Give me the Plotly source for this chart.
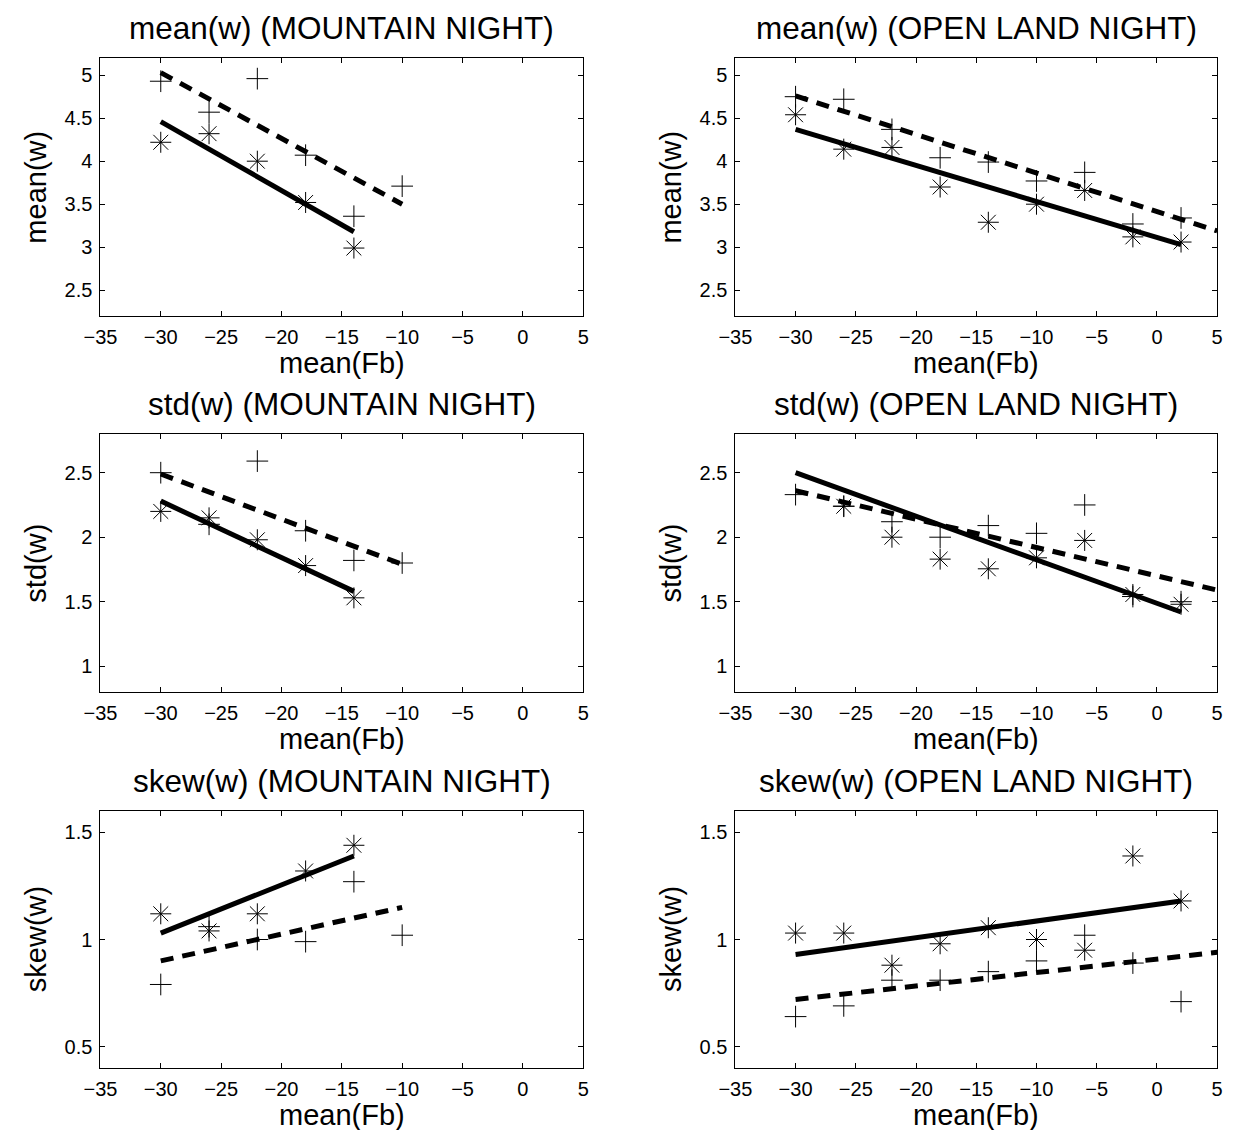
import plotly.graph_objects as go

# ---------------- data ----------------
fb_mtn_plus = [-30, -26, -22, -18, -14, -10]
fb_mtn_star = [-30, -26, -22, -18, -14]
fb_open = [-30, -26, -22, -18, -14, -10, -6, -2, 2]
fb_open_std_star = [-26, -22, -18, -14, -10, -6, -2, 2]

mean_mtn_plus = [4.93, 4.57, 4.96, 4.07, 3.36, 3.71]
mean_mtn_star = [4.22, 4.32, 4.00, 3.52, 2.99]
mean_open_plus = [4.75, 4.72, 4.37, 4.04, 3.99, 3.77, 3.87, 3.27, 3.34]
mean_open_star = [4.54, 4.14, 4.16, 3.70, 3.29, 3.50, 3.66, 3.12, 3.06]

std_mtn_plus = [2.50, 2.10, 2.59, 2.05, 1.82, 1.80]
std_mtn_star = [2.20, 2.15, 1.98, 1.78, 1.53]
std_open_plus = [2.33, 2.24, 2.12, 2.00, 2.09, 2.03, 2.25, 1.54, 1.50]
std_open_star = [2.24, 2.00, 1.83, 1.755, 1.84, 1.975, 1.556, 1.48]

skew_mtn_plus = [0.79, 1.06, 1.00, 0.99, 1.27, 1.02]
skew_mtn_star = [1.12, 1.04, 1.12, 1.32, 1.44]
skew_open_plus = [0.64, 0.69, 0.81, 0.81, 0.85, 0.90, 1.02, 0.89, 0.71]
skew_open_star = [1.03, 1.03, 0.88, 0.98, 1.055, 1.00, 0.95, 1.39, 1.18]

# fitted lines (end points)
fit_mtn_solid_x = [-30, -14]
fit_mtn_dash_x = [-30, -10]
fit_open_solid_x = [-30, 2]
fit_open_dash_x = [-30, 5]

mean_mtn_solid = [4.46, 3.18]
mean_mtn_dash = [5.03, 3.50]
mean_open_solid = [4.37, 3.03]
mean_open_dash = [4.76, 3.19]
std_mtn_solid = [2.28, 1.58]
std_mtn_dash = [2.49, 1.79]
std_open_solid = [2.50, 1.42]
std_open_dash = [2.36, 1.59]
skew_mtn_solid = [1.03, 1.39]
skew_mtn_dash = [0.90, 1.15]
skew_open_solid = [0.93, 1.18]
skew_open_dash = [0.72, 0.94]

titles = ["mean(w) (MOUNTAIN NIGHT)", "mean(w) (OPEN LAND NIGHT)",
          "std(w) (MOUNTAIN NIGHT)", "std(w) (OPEN LAND NIGHT)",
          "skew(w) (MOUNTAIN NIGHT)", "skew(w) (OPEN LAND NIGHT)"]
ylabels = ["mean(w)", "mean(w)", "std(w)", "std(w)", "skew(w)", "skew(w)"]
xlabel = "mean(Fb)"
x_ticks = [-35, -30, -25, -20, -15, -10, -5, 0, 5]
y_ticks_mean = [2.5, 3, 3.5, 4, 4.5, 5]
y_ticks_std = [1, 1.5, 2, 2.5]
y_ticks_skew = [0.5, 1, 1.5]

panels = [
    dict(px=fb_mtn_plus, py=mean_mtn_plus, sx=fb_mtn_star, sy=mean_mtn_star,
         lx=fit_mtn_solid_x, ly=mean_mtn_solid, dx=fit_mtn_dash_x, dy=mean_mtn_dash,
         yr=[2.2, 5.2], yt=y_ticks_mean),
    dict(px=fb_open, py=mean_open_plus, sx=fb_open, sy=mean_open_star,
         lx=fit_open_solid_x, ly=mean_open_solid, dx=fit_open_dash_x, dy=mean_open_dash,
         yr=[2.2, 5.2], yt=y_ticks_mean),
    dict(px=fb_mtn_plus, py=std_mtn_plus, sx=fb_mtn_star, sy=std_mtn_star,
         lx=fit_mtn_solid_x, ly=std_mtn_solid, dx=fit_mtn_dash_x, dy=std_mtn_dash,
         yr=[0.8, 2.8], yt=y_ticks_std),
    dict(px=fb_open, py=std_open_plus, sx=fb_open_std_star, sy=std_open_star,
         lx=fit_open_solid_x, ly=std_open_solid, dx=fit_open_dash_x, dy=std_open_dash,
         yr=[0.8, 2.8], yt=y_ticks_std),
    dict(px=fb_mtn_plus, py=skew_mtn_plus, sx=fb_mtn_star, sy=skew_mtn_star,
         lx=fit_mtn_solid_x, ly=skew_mtn_solid, dx=fit_mtn_dash_x, dy=skew_mtn_dash,
         yr=[0.4, 1.6], yt=y_ticks_skew),
    dict(px=fb_open, py=skew_open_plus, sx=fb_open, sy=skew_open_star,
         lx=fit_open_solid_x, ly=skew_open_solid, dx=fit_open_dash_x, dy=skew_open_dash,
         yr=[0.4, 1.6], yt=y_ticks_skew),
]

# ---------------- layout geometry (pixels) ----------------
W, H = 1233, 1130
col_px = [(85, 577), (732, 1223)]
row_px = [(58, 316), (434, 692), (811, 1068)]
FONT = "Liberation Sans, Arial, Helvetica, sans-serif"

fig = go.Figure()
layout = dict(width=W, height=H, margin=dict(l=0, r=0, t=0, b=0),
              paper_bgcolor="white", plot_bgcolor="white", showlegend=False,
              font=dict(family=FONT, color="black"))
annotations = []

for i, p in enumerate(panels):
    r, c = divmod(i, 2)
    n = i + 1
    xa = "x" if n == 1 else f"x{n}"
    ya = "y" if n == 1 else f"y{n}"
    # markers
    fig.add_trace(go.Scatter(x=p["px"], y=p["py"], mode="markers", xaxis=xa, yaxis=ya,
                             marker=dict(symbol="cross-thin-open", size=15.5,
                                         line=dict(color="black", width=1), color="black")))
    fig.add_trace(go.Scatter(x=p["sx"], y=p["sy"], mode="markers", xaxis=xa, yaxis=ya,
                             marker=dict(symbol="asterisk-open", size=17.5,
                                         line=dict(color="black", width=1), color="black")))
    # fitted lines
    fig.add_trace(go.Scatter(x=p["lx"], y=p["ly"], mode="lines", xaxis=xa, yaxis=ya,
                             line=dict(color="black", width=5)))
    fig.add_trace(go.Scatter(x=p["dx"], y=p["dy"], mode="lines", xaxis=xa, yaxis=ya,
                             line=dict(color="black", width=5, dash="13px,9px")))

    x0, x1 = col_px[c]
    y0, y1 = row_px[r]
    xdom = [x0 / W, x1 / W]
    ydom = [1 - y1 / H, 1 - y0 / H]
    common = dict(showgrid=False, zeroline=False, showline=True, linecolor="black",
                  linewidth=1, mirror="ticks", ticks="inside", ticklen=5, tickwidth=1,
                  tickcolor="black", tickfont=dict(family=FONT, size=20, color="black"))
    layout["xaxis" if n == 1 else f"xaxis{n}"] = dict(
        domain=xdom, range=[-35, 5], tickvals=x_ticks, anchor=ya,
        ticklabelstandoff=3, **common)
    layout["yaxis" if n == 1 else f"yaxis{n}"] = dict(
        domain=ydom, range=p["yr"], tickvals=p["yt"], anchor=xa,
        ticklabelstandoff=3, **common)

    cx = (x0 + x1) / 2 / W
    annotations.append(dict(text=titles[i], x=cx, y=1 - (y0 - 30) / H, xref="paper", yref="paper",
                            xanchor="center", yanchor="middle", showarrow=False,
                            font=dict(family=FONT, size=31.5, color="black")))
    annotations.append(dict(text=xlabel, x=cx, y=1 - (y1 + 47) / H, xref="paper", yref="paper",
                            xanchor="center", yanchor="middle", showarrow=False,
                            font=dict(family=FONT, size=29, color="black")))
    annotations.append(dict(text=ylabels[i], x=(x0 - 66) / W, y=1 - (y0 + y1) / 2 / H,
                            xref="paper", yref="paper", textangle=-90,
                            xanchor="center", yanchor="middle", showarrow=False,
                            font=dict(family=FONT, size=29, color="black")))

layout["annotations"] = annotations
fig.update_layout(**layout)
fig.write_html("out.html")
